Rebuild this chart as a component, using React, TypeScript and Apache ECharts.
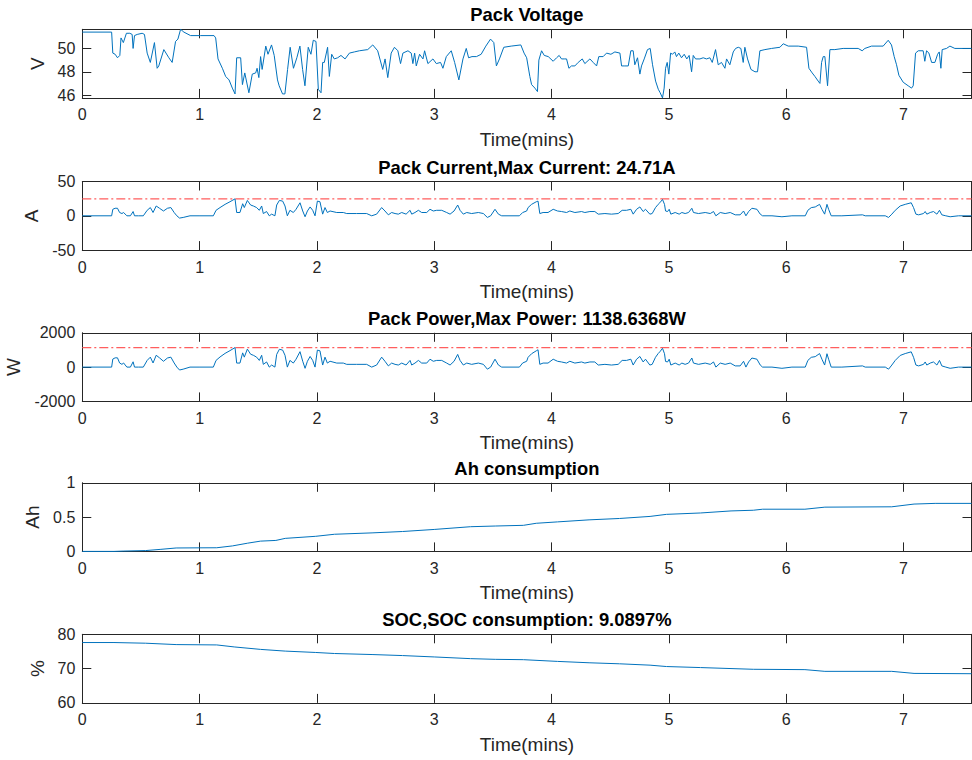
import React, { useEffect, useRef } from "react";
import * as echarts from "echarts";

// Tick positions for every subplot
const timeTicks = [0, 1, 2, 3, 4, 5, 6, 7];
const voltageTicks = [46, 48, 50];
const currentTicks = [-50, 0, 50];
const powerTicks = [-2000, 0, 2000];
const ahTicks = [0, 0.5, 1];
const socTicks = [60, 70, 80];

const maxCurrent = 24.71;
const maxPower = 1138.6368;
const socConsumption = "9.0897";

// [time (mins), pack voltage (V)]
const packVoltage: [number, number][] = [
  [0, 51.4], [0.25, 51.4], [0.26, 49.6], [0.28, 49.5], [0.3, 49.2], [0.32, 49.4], [0.33, 50.9],
  [0.35, 50.5], [0.376, 51.3], [0.405, 51.3], [0.425, 51.2], [0.433, 50.0], [0.445, 51.1],
  [0.468, 51.2], [0.51, 51.3], [0.53, 51.2], [0.553, 49.6], [0.58, 48.8], [0.615, 50.5],
  [0.638, 48.3], [0.652, 48.5], [0.695, 49.9], [0.738, 49.2], [0.766, 48.8], [0.795, 50.6],
  [0.815, 50.8], [0.838, 51.64], [0.866, 51.4], [0.923, 51.1], [1.008, 51.1], [1.123, 51.1],
  [1.137, 50.9], [1.157, 49.1], [1.194, 48.3], [1.222, 47.6], [1.251, 47.3], [1.279, 46.6],
  [1.302, 46.1], [1.316, 49.2], [1.35, 49.2], [1.365, 46.9], [1.385, 47.9], [1.42, 46.2],
  [1.449, 47.8], [1.478, 47.9], [1.49, 48.3], [1.505, 47.5], [1.52, 49.3], [1.533, 48.2],
  [1.564, 50.2], [1.583, 49.5], [1.613, 50.3], [1.636, 49.4], [1.664, 47.3], [1.678, 46.8],
  [1.707, 46.1], [1.727, 46.1], [1.75, 48.2], [1.772, 50.1], [1.8, 48.3], [1.829, 49.2],
  [1.855, 50.2], [1.878, 48.2], [1.898, 46.8], [1.926, 50.1], [1.949, 49.5], [1.969, 50.7],
  [1.992, 50.6], [2.012, 46.5], [2.035, 46.2], [2.049, 48.8], [2.063, 48.8], [2.091, 50.1],
  [2.106, 47.6], [2.126, 49.5], [2.148, 49.1], [2.177, 49.2], [2.205, 49.4], [2.24, 49.1],
  [2.277, 49.6], [2.319, 49.7], [2.362, 49.8], [2.433, 49.9], [2.476, 50.3], [2.518, 49.8],
  [2.561, 48.2], [2.581, 49.1], [2.604, 47.5], [2.633, 49.6], [2.661, 50.1], [2.69, 49.8],
  [2.713, 48.7], [2.733, 49.6], [2.776, 49.8], [2.804, 49.6], [2.818, 48.7], [2.833, 49.6],
  [2.847, 48.5], [2.875, 49.5], [2.904, 49.1], [2.918, 49.8], [2.946, 48.7], [2.989, 49.1],
  [3.018, 48.7], [3.054, 48.8], [3.074, 48.3], [3.103, 49.3], [3.145, 49.8], [3.174, 48.8],
  [3.21, 47.3], [3.245, 49.1], [3.273, 50.0], [3.293, 49.2], [3.322, 49.3], [3.36, 49.3],
  [3.4, 49.5], [3.44, 50.2], [3.48, 50.8], [3.508, 50.5], [3.53, 48.5], [3.556, 49.1],
  [3.593, 50.1], [3.656, 50.2], [3.738, 50.3], [3.766, 49.6], [3.788, 49.2], [3.815, 47.6],
  [3.83, 46.9], [3.858, 46.6], [3.88, 46.3], [3.892, 49.0], [3.915, 49.8], [3.938, 49.4],
  [3.972, 49.3], [4.014, 48.9], [4.043, 49.2], [4.065, 49.4], [4.085, 49.1], [4.108, 49.1],
  [4.128, 49.1], [4.148, 48.3], [4.17, 48.5], [4.199, 48.5], [4.227, 48.8], [4.262, 49.1],
  [4.284, 48.7], [4.327, 49.1], [4.355, 48.8], [4.384, 48.5], [4.403, 49.3], [4.44, 49.3],
  [4.469, 49.6], [4.506, 49.5], [4.54, 49.7], [4.583, 49.6], [4.597, 48.5], [4.625, 48.5],
  [4.654, 48.5], [4.676, 49.8], [4.696, 49.8], [4.71, 48.6], [4.733, 49.2], [4.753, 47.8],
  [4.767, 48.5], [4.79, 49.1], [4.818, 49.9], [4.841, 50.0], [4.861, 48.6], [4.887, 47.2],
  [4.91, 46.5], [4.926, 46.2], [4.946, 45.76], [4.96, 46.6], [4.972, 48.3], [4.986, 48.8],
  [5.0, 47.8], [5.015, 49.6], [5.031, 49.5], [5.051, 49.7], [5.065, 49.3], [5.085, 49.6],
  [5.108, 49.2], [5.131, 49.5], [5.153, 49.1], [5.173, 49.4], [5.194, 48.0], [5.208, 49.4],
  [5.228, 49.1], [5.265, 49.1], [5.293, 49.2], [5.321, 49.1], [5.35, 49.2], [5.37, 48.8],
  [5.398, 49.9], [5.421, 48.6], [5.449, 48.8], [5.478, 48.3], [5.492, 49.1], [5.52, 48.6],
  [5.549, 49.7], [5.569, 50.0], [5.592, 50.1], [5.614, 50.0], [5.634, 48.8], [5.648, 50.1],
  [5.671, 49.1], [5.7, 48.2], [5.734, 48.0], [5.756, 48.0], [5.776, 49.8], [5.819, 49.9],
  [5.876, 50.0], [5.947, 50.1], [5.975, 50.4], [6.018, 50.2], [6.103, 50.2], [6.174, 50.1],
  [6.194, 48.3], [6.222, 47.9], [6.245, 47.6], [6.273, 47.2], [6.288, 47.0], [6.302, 48.8],
  [6.316, 49.3], [6.33, 49.3], [6.353, 46.8], [6.373, 49.9], [6.415, 49.9], [6.486, 50.0],
  [6.614, 50.0], [6.648, 49.8], [6.671, 50.0], [6.728, 50.2], [6.827, 50.2], [6.87, 50.7],
  [6.898, 50.3], [6.921, 49.3], [6.941, 48.6], [6.961, 47.7], [6.998, 47.1], [7.04, 46.8],
  [7.069, 46.6], [7.083, 46.8], [7.103, 49.6], [7.126, 49.8], [7.168, 49.8], [7.182, 48.9],
  [7.197, 49.8], [7.217, 49.6], [7.24, 48.8], [7.268, 48.8], [7.291, 49.5], [7.305, 49.7],
  [7.319, 48.3], [7.33, 49.9], [7.367, 50.0], [7.396, 50.2], [7.438, 50.0], [7.58, 50.0],
];

// [time (mins), pack current (A)]
const packCurrent: [number, number][] = [
  [0, 0], [0.25, 0], [0.26, 9.5], [0.28, 11], [0.3, 11], [0.318, 4.8], [0.338, 3.3], [0.352, 4.8],
  [0.38, 0], [0.41, 0], [0.433, 6.2], [0.445, 0], [0.48, 0], [0.52, 0], [0.553, 8], [0.58, 12],
  [0.603, 4.8], [0.63, 14.3], [0.658, 11], [0.692, 7], [0.726, 11], [0.755, 12], [0.783, 4.8],
  [0.806, 0], [0.829, -3.3], [0.86, -2.4], [0.918, 0], [1.003, 0], [1.117, 0], [1.14, 8],
  [1.174, 12], [1.217, 16.7], [1.259, 20.5], [1.302, 24.71], [1.316, 4.8], [1.344, 4.8],
  [1.367, 17.6], [1.381, 12], [1.407, 22.4], [1.435, 15.7], [1.458, 14.3], [1.486, 12],
  [1.509, 8], [1.529, 14.3], [1.543, 3.3], [1.571, 6.2], [1.594, 0], [1.614, 2.4], [1.642, 0],
  [1.657, 15.7], [1.68, 22.4], [1.708, 21.4], [1.728, 14.3], [1.748, 0], [1.77, 8], [1.799, 4.8],
  [1.822, 9.5], [1.856, 19], [1.879, 7], [1.899, -1.4], [1.919, 7], [1.942, 12.9], [1.964, 8],
  [1.984, 0], [2.004, 21.4], [2.026, 20.5], [2.049, 2.4], [2.069, 12], [2.089, 4.8], [2.112, 7],
  [2.169, 4.8], [2.225, 4.8], [2.254, 3.3], [2.339, 3.3], [2.424, 3.3], [2.467, 0], [2.509, 2.4],
  [2.552, 12], [2.58, 7], [2.609, 1.4], [2.637, 4.8], [2.666, 3.3], [2.694, 2.4], [2.723, 4.8],
  [2.76, 2.4], [2.794, 8], [2.808, 2.4], [2.836, 4.8], [2.865, 8], [2.893, 4.8], [2.936, 4.8],
  [2.964, 9.5], [2.992, 7], [3.021, 8], [3.064, 8], [3.106, 4.8], [3.135, 2.4], [3.169, 7],
  [3.2, 15.7], [3.22, 8], [3.248, 2.4], [3.277, 4.8], [3.319, 3.3], [3.376, 4.8], [3.419, 3.3],
  [3.453, -2.4], [3.481, 0], [3.518, 9.5], [3.547, 2.4], [3.575, 0], [3.646, 0], [3.726, 0],
  [3.754, 4.8], [3.788, 7], [3.8, 12], [3.83, 16.7], [3.87, 20.5], [3.885, 21.4], [3.9, 3.3],
  [3.928, 4.8], [3.97, 4.8], [4.014, 9.5], [4.051, 7], [4.085, 6.2], [4.128, 4.8], [4.156, 7],
  [4.199, 4.8], [4.256, 6.2], [4.284, 4.8], [4.327, 6.2], [4.369, 6.2], [4.398, 2.4], [4.455, 3.3],
  [4.511, 2.4], [4.568, 3.3], [4.602, 8], [4.639, 8], [4.676, 9.5], [4.696, 2.4], [4.725, 9.5],
  [4.753, 12.9], [4.781, 6.2], [4.801, 9.5], [4.838, 2.4], [4.858, 3.3], [4.886, 11.9],
  [4.909, 16.7], [4.923, 19], [4.946, 23.8], [4.963, 16.7], [4.972, 7], [4.989, 6.2], [5.003, 9.5],
  [5.017, 2.4], [5.054, 4.8], [5.088, 2.4], [5.111, 4.8], [5.139, 3.3], [5.168, 4.8], [5.196, 11],
  [5.21, 4.8], [5.253, 3.3], [5.31, 4.8], [5.353, 3.3], [5.381, 6.2], [5.401, 0], [5.438, 4.8],
  [5.48, 3.3], [5.523, 4.8], [5.566, 1.4], [5.608, 1.4], [5.637, 7], [5.657, 0], [5.68, 6.2],
  [5.708, 11], [5.751, 9.5], [5.779, 2.4], [5.799, 0], [5.879, 0], [5.964, -1.4], [6.049, 0],
  [6.163, 0], [6.185, 8], [6.214, 11.9], [6.248, 12.9], [6.285, 16.7], [6.305, 9.5], [6.328, 2.4],
  [6.348, 16.7], [6.362, 9.5], [6.384, 0], [6.475, 0], [6.651, 1.4], [6.674, 0], [6.845, 0],
  [6.873, -2.4], [6.901, 2.4], [6.93, 8], [6.972, 14.3], [7.015, 16.7], [7.066, 19], [7.086, 11.9],
  [7.106, 2.4], [7.129, 1.4], [7.171, 3.3], [7.185, 6.2], [7.199, 2.4], [7.228, 4.8], [7.256, 6.2],
  [7.285, 2.4], [7.307, 8], [7.327, 1.4], [7.361, 0], [7.398, -1.4], [7.469, 0], [7.58, 0],
];

// [time (mins), pack power (W)]
const packPower: [number, number][] = [
  [0, 0], [0.25, 0], [0.26, 470], [0.28, 540], [0.3, 540], [0.318, 240], [0.338, 160], [0.352, 240],
  [0.38, 0], [0.41, 0], [0.433, 310], [0.445, 0], [0.48, 0], [0.52, 0], [0.553, 390], [0.58, 580],
  [0.603, 240], [0.63, 690], [0.658, 540], [0.692, 340], [0.726, 530], [0.755, 580], [0.783, 240],
  [0.806, 0], [0.829, -170], [0.86, -120], [0.918, 0], [1.003, 0], [1.117, 0], [1.14, 390],
  [1.174, 590], [1.217, 800], [1.259, 960], [1.302, 1138.6368], [1.316, 235], [1.344, 235],
  [1.367, 830], [1.381, 580], [1.407, 1050], [1.435, 750], [1.458, 690], [1.486, 580],
  [1.509, 390], [1.529, 690], [1.543, 160], [1.571, 300], [1.594, 0], [1.614, 120], [1.642, 0],
  [1.657, 740], [1.68, 1040], [1.708, 990], [1.728, 690], [1.748, 0], [1.77, 390], [1.799, 235],
  [1.822, 460], [1.856, 900], [1.879, 340], [1.899, -70], [1.919, 340], [1.942, 620], [1.964, 390],
  [1.984, 0], [2.004, 990], [2.026, 950], [2.049, 120], [2.069, 580], [2.089, 235], [2.112, 340],
  [2.169, 235], [2.225, 235], [2.254, 160], [2.339, 160], [2.424, 160], [2.467, 0], [2.509, 120],
  [2.552, 580], [2.58, 340], [2.609, 70], [2.637, 235], [2.666, 160], [2.694, 120], [2.723, 235],
  [2.76, 120], [2.794, 390], [2.808, 120], [2.836, 235], [2.865, 390], [2.893, 235], [2.936, 235],
  [2.964, 460], [2.992, 340], [3.021, 390], [3.064, 390], [3.106, 235], [3.135, 120], [3.169, 340],
  [3.2, 740], [3.22, 390], [3.248, 120], [3.277, 235], [3.319, 160], [3.376, 235], [3.419, 160],
  [3.453, -120], [3.481, 0], [3.518, 460], [3.547, 120], [3.575, 0], [3.646, 0], [3.726, 0],
  [3.754, 240], [3.788, 340], [3.8, 570], [3.83, 780], [3.87, 950], [3.885, 1010], [3.9, 160],
  [3.928, 235], [3.97, 235], [4.014, 460], [4.051, 340], [4.085, 300], [4.128, 235], [4.156, 340],
  [4.199, 235], [4.256, 300], [4.284, 235], [4.327, 300], [4.369, 300], [4.398, 120], [4.455, 160],
  [4.511, 120], [4.568, 160], [4.602, 390], [4.639, 390], [4.676, 460], [4.696, 120], [4.725, 460],
  [4.753, 620], [4.781, 300], [4.801, 460], [4.838, 120], [4.858, 160], [4.886, 570],
  [4.909, 790], [4.923, 890], [4.946, 1095], [4.963, 780], [4.972, 330], [4.989, 300], [5.003, 460],
  [5.017, 120], [5.054, 235], [5.088, 120], [5.111, 235], [5.139, 160], [5.168, 235], [5.196, 530],
  [5.21, 235], [5.253, 160], [5.31, 235], [5.353, 160], [5.381, 300], [5.401, 0], [5.438, 235],
  [5.48, 160], [5.523, 235], [5.566, 70], [5.608, 70], [5.637, 340], [5.657, 0], [5.68, 300],
  [5.708, 530], [5.751, 460], [5.779, 120], [5.799, 0], [5.879, 0], [5.964, -70], [6.049, 0],
  [6.163, 0], [6.185, 390], [6.214, 570], [6.248, 610], [6.285, 790], [6.305, 460], [6.328, 120],
  [6.348, 780], [6.362, 460], [6.384, 0], [6.475, 0], [6.651, 70], [6.674, 0], [6.845, 0],
  [6.873, -120], [6.901, 120], [6.93, 390], [6.972, 680], [7.015, 790], [7.066, 890], [7.086, 570],
  [7.106, 120], [7.129, 70], [7.171, 160], [7.185, 300], [7.199, 120], [7.228, 235], [7.256, 300],
  [7.285, 120], [7.307, 390], [7.327, 70], [7.361, 0], [7.398, -70], [7.469, 0], [7.58, 0],
];

// [time (mins), cumulative charge drawn (Ah)]
const ahConsumption: [number, number][] = [
  [0, 0], [0.27, 0], [0.354, 0.005], [0.54, 0.012], [0.67, 0.03], [0.8, 0.05], [1.0, 0.052],
  [1.146, 0.053], [1.28, 0.08], [1.41, 0.12], [1.52, 0.15], [1.65, 0.16], [1.73, 0.19],
  [1.99, 0.22], [2.15, 0.25], [2.47, 0.27], [2.73, 0.29], [3.0, 0.32], [3.31, 0.36], [3.52, 0.37],
  [3.76, 0.38], [3.87, 0.41], [4.05, 0.43], [4.32, 0.46], [4.58, 0.48], [4.84, 0.51], [4.98, 0.54],
  [5.27, 0.56], [5.53, 0.59], [5.72, 0.6], [5.8, 0.615], [6.16, 0.615], [6.33, 0.645], [6.9, 0.65],
  [7.09, 0.69], [7.27, 0.7], [7.58, 0.7],
];

// [time (mins), state of charge (%)]
const stateOfCharge: [number, number][] = [
  [0, 77.6], [0.27, 77.6], [0.54, 77.4], [0.8, 77.0], [1.146, 76.9], [1.3, 76.3], [1.52, 75.6],
  [1.73, 75.1], [1.99, 74.7], [2.15, 74.4], [2.47, 74.1], [2.73, 73.8], [3.0, 73.4], [3.31, 72.9],
  [3.52, 72.7], [3.76, 72.6], [4.05, 72.1], [4.32, 71.7], [4.58, 71.4], [4.84, 71.0], [4.98, 70.6],
  [5.27, 70.3], [5.72, 69.8], [6.16, 69.7], [6.33, 69.2], [6.9, 69.2], [7.09, 68.6], [7.58, 68.51],
];

const FONT = '"Liberation Sans", Arial, Helvetica, sans-serif';
const AXIS_COLOR = "#262626";
const LINE_COLOR = "#0072BD";
const REF_COLOR = "#ff5e5e";
const TICK_SIZE = 16;
const LABEL_SIZE = 19;
const TITLE_SIZE = 18.4;

const PLOT_LEFT = 82.3;
const PLOT_WIDTH = 889.2;
const PLOT_HEIGHT = 68.6;
const PLOT_TOPS = [29.3, 181.5, 332.8, 482.8, 634.3];

type Panel = {
  title: string;
  yName: string;
  yMin: number;
  yMax: number;
  yTicks: number[];
  data: [number, number][];
  refValue?: number;
};

function buildOption() {
  const tMax = packVoltage[packVoltage.length - 1][0];
  const vValues = packVoltage.map((d) => d[1]);

  const panels: Panel[] = [
    {
      title: "Pack Voltage",
      yName: "V",
      yMin: Math.min(...vValues),
      yMax: Math.max(...vValues),
      yTicks: voltageTicks,
      data: packVoltage,
    },
    {
      title: `Pack Current,Max Current: ${maxCurrent}A`,
      yName: "A",
      yMin: -50,
      yMax: 50,
      yTicks: currentTicks,
      data: packCurrent,
      refValue: maxCurrent,
    },
    {
      title: `Pack Power,Max Power: ${maxPower}W`,
      yName: "W",
      yMin: -2000,
      yMax: 2000,
      yTicks: powerTicks,
      data: packPower,
      refValue: maxPower,
    },
    {
      title: "Ah consumption",
      yName: "Ah",
      yMin: 0,
      yMax: 1,
      yTicks: ahTicks,
      data: ahConsumption,
    },
    {
      title: `SOC,SOC consumption: ${socConsumption}%`,
      yName: "%",
      yMin: 60,
      yMax: 80,
      yTicks: socTicks,
      data: stateOfCharge,
    },
  ];

  const axisLine = { show: true, onZero: false, lineStyle: { color: AXIS_COLOR, width: 1 } };
  const labelStyle = {
    color: AXIS_COLOR,
    fontSize: TICK_SIZE,
    fontFamily: FONT,
    formatter: (v: number) => String(v),
  };

  const grid: any[] = [];
  const xAxis: any[] = [];
  const yAxis: any[] = [];
  const series: any[] = [];
  const graphic: any[] = [];

  panels.forEach((p, i) => {
    grid.push({
      left: PLOT_LEFT,
      top: PLOT_TOPS[i],
      width: PLOT_WIDTH,
      height: PLOT_HEIGHT,
      containLabel: false,
      outerBoundsMode: "none",
    });

    // bottom (labelled) and top (box) time axes
    xAxis.push({
      gridIndex: i,
      type: "value",
      position: "bottom",
      min: 0,
      max: tMax,
      axisLine,
      axisTick: { show: true, inside: true, length: 9, customValues: timeTicks, lineStyle: { color: AXIS_COLOR } },
      axisLabel: { ...labelStyle, margin: 9, customValues: timeTicks },
      splitLine: { show: false },
      name: "Time(mins)",
      nameLocation: "middle",
      nameGap: 32,
      nameTextStyle: { color: AXIS_COLOR, fontSize: LABEL_SIZE, fontFamily: FONT },
    });
    xAxis.push({
      gridIndex: i,
      type: "value",
      position: "top",
      min: 0,
      max: tMax,
      axisLine,
      axisTick: { show: true, inside: true, length: 9, customValues: timeTicks, lineStyle: { color: AXIS_COLOR } },
      axisLabel: { show: false },
      splitLine: { show: false },
    });

    // left (labelled) and right (box) value axes
    yAxis.push({
      gridIndex: i,
      type: "value",
      position: "left",
      min: p.yMin,
      max: p.yMax,
      axisLine,
      axisTick: { show: true, inside: true, length: 9, customValues: p.yTicks, lineStyle: { color: AXIS_COLOR } },
      axisLabel: { ...labelStyle, margin: 7, customValues: p.yTicks },
      splitLine: { show: false },
      name: p.yName,
      nameLocation: "middle",
      nameRotate: 90,
      nameGap: 35,
      nameTextStyle: { color: AXIS_COLOR, fontSize: LABEL_SIZE, fontFamily: FONT },
    });
    yAxis.push({
      gridIndex: i,
      type: "value",
      position: "right",
      min: p.yMin,
      max: p.yMax,
      axisLine,
      axisTick: { show: true, inside: true, length: 9, customValues: p.yTicks, lineStyle: { color: AXIS_COLOR } },
      axisLabel: { show: false },
      splitLine: { show: false },
    });

    // maximum marker drawn first so the measured trace sits on top
    if (p.refValue !== undefined) {
      series.push({
        type: "line",
        xAxisIndex: 2 * i,
        yAxisIndex: 2 * i,
        data: [
          [0, p.refValue],
          [tMax, p.refValue],
        ],
        showSymbol: false,
        symbol: "none",
        silent: true,
        lineStyle: { color: REF_COLOR, width: 1.2, type: [9, 3, 2, 3] },
      });
    }
    series.push({
      type: "line",
      xAxisIndex: 2 * i,
      yAxisIndex: 2 * i,
      data: p.data,
      showSymbol: false,
      symbol: "none",
      silent: true,
      lineStyle: { color: LINE_COLOR, width: 1 },
    });

    graphic.push({
      type: "text",
      x: PLOT_LEFT + PLOT_WIDTH / 2,
      y: PLOT_TOPS[i] - 14.5,
      style: {
        text: p.title,
        font: `bold ${TITLE_SIZE}px ${FONT}`,
        fill: "#000000",
        textAlign: "center",
        textVerticalAlign: "middle",
        align: "center",
        verticalAlign: "middle",
      },
    });
  });

  return {
    animation: false,
    backgroundColor: "#ffffff",
    textStyle: { fontFamily: FONT },
    grid,
    xAxis,
    yAxis,
    series,
    graphic,
  };
}

export default function App() {
  const ref = useRef<HTMLDivElement>(null);

  useEffect(() => {
    if (!ref.current) return;
    const chart = echarts.init(ref.current, undefined, { renderer: "svg" });
    chart.setOption(buildOption());
    return () => chart.dispose();
  }, []);

  return (
    <div
      ref={ref}
      style={{ position: "absolute", left: 0, top: 0, width: 972, height: 760, background: "#ffffff" }}
    />
  );
}
